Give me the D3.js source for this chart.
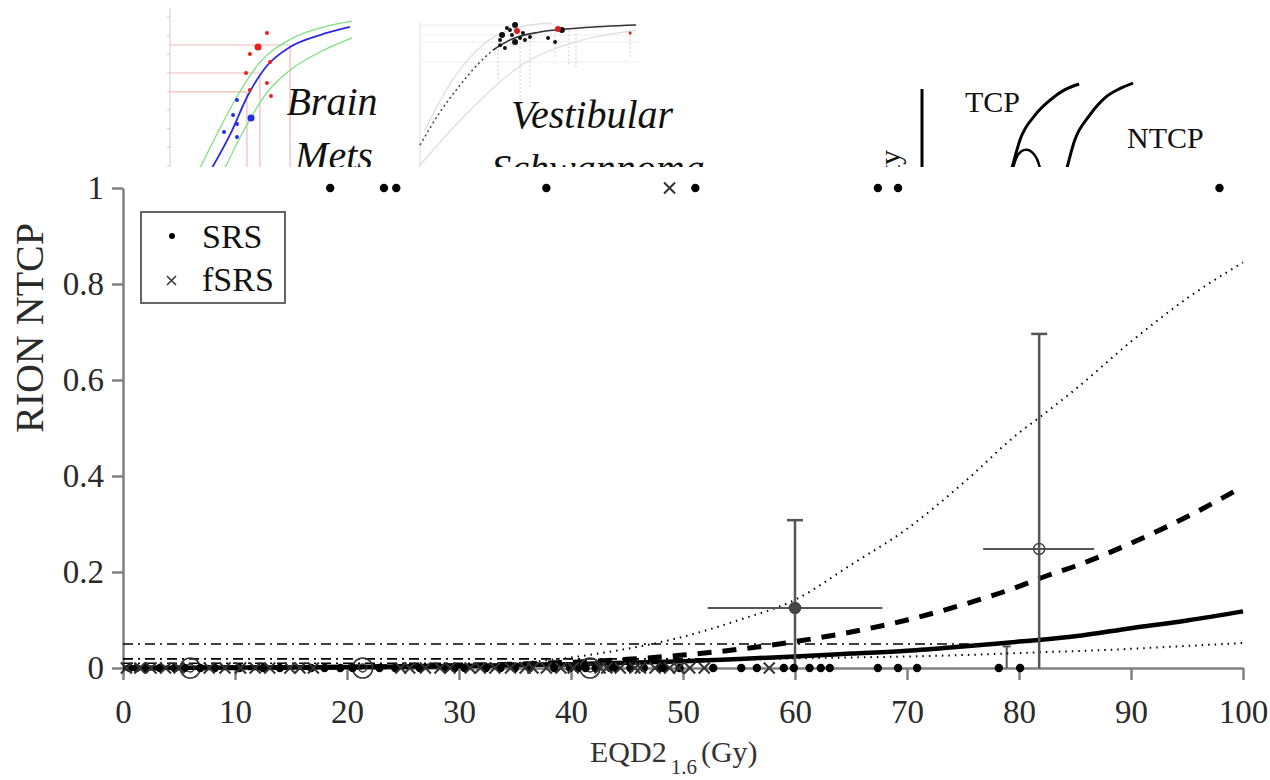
<!DOCTYPE html>
<html>
<head>
<meta charset="utf-8">
<script src="https://cdn.jsdelivr.net/npm/d3@7"></script>
<style>
  body { margin: 0; background: #fff; }
  svg { display: block; }
</style>
</head>
<body>
<div id="chart"></div>
<script>
// ---- main chart data (EQD2 in Gy, NTCP) ----
var xTicks = [0, 10, 20, 30, 40, 50, 60, 70, 80, 90, 100];
var yTicks = [0, 0.2, 0.4, 0.6, 0.8, 1];
var yTickLabels = ["0", "0.2", "0.4", "0.6", "0.8", "1"];

var srsTox = [18.5, 23.3, 24.4, 37.8, 51.1, 67.4, 69.2, 97.9];
var fsrsTox = [48.8];
var srsNoTox = [0.6, 1.2, 2.0, 3.3, 4.6, 5.5, 6.9, 8.2, 10.4, 12.5, 14.0, 16.8, 18.0, 19.4,
    20.5, 22.9, 24.3, 26.5, 28.8, 29.6, 30.5, 32.4, 33.7, 35.0, 36.3, 38.5, 39.9, 40.6, 41.3,
    42.2, 43.5, 44.0, 45.3, 46.5, 47.9, 48.3, 49.7, 52.7, 55.2, 56.6, 59.0, 59.9, 61.3, 62.3,
    63.1, 67.4, 69.2, 70.9, 78.2, 80.1];
var fsrsNoTox = [0.3, 1.5, 2.5, 3.8, 5.0, 7.7, 9.1, 10.5, 11.8, 13.1, 14.9, 15.8, 17.0, 24.8,
    25.6, 27.0, 28.3, 29.2, 31.0, 31.9, 33.2, 34.6, 35.9, 36.6, 37.8, 39.1, 40.2, 42.6, 43.2,
    44.4, 45.7, 46.2, 47.5, 48.8, 49.6, 50.6, 51.9, 57.7];

// binned observed rates: dose, rate, dose range, rate range
var binDose = [6.0, 21.4, 41.7, 60.0, 81.8];
var binRate = [0, 0, 0, 0.125, 0.248];
var binDoseLo = [6.0, 21.4, 41.7, 52.2, 76.8];
var binDoseHi = [6.0, 21.4, 41.7, 67.8, 86.7];
var binRateHi = [0, 0, 0, 0.308, 0.696];

var curveDose = [0, 10, 20, 30, 35, 40, 45, 50, 55, 60, 65, 70, 75, 80, 82, 85, 90, 95, 100];
var fitNtcp   = [0, 0.001, 0.002, 0.004, 0.006, 0.008, 0.011, 0.014, 0.019, 0.024, 0.030, 0.036, 0.045, 0.055, 0.059, 0.066, 0.083, 0.099, 0.118];
var altNtcp   = [0, 0.0005, 0.002, 0.005, 0.008, 0.012, 0.018, 0.027, 0.039, 0.055, 0.075, 0.100, 0.132, 0.170, 0.188, 0.212, 0.260, 0.315, 0.378];
var ciHigh    = [0, 0.0005, 0.002, 0.005, 0.010, 0.022, 0.040, 0.065, 0.100, 0.142, 0.215, 0.290, 0.385, 0.490, 0.525, 0.580, 0.680, 0.770, 0.845];
var ciLow     = [0, 0.0005, 0.001, 0.002, 0.004, 0.007, 0.010, 0.013, 0.017, 0.020, 0.022, 0.024, 0.027, 0.031, 0.033, 0.035, 0.040, 0.046, 0.052];

// tolerance levels and the dose where the fit reaches them
var tolLevel = [0.05, 0.019, 0.010];
var tolDose = [77.4, 56.0, 43.5];
// small error bar near the 5% crossing
var markDose = 78.9, markHi = 0.045;

// ---- inset: brain mets thumbnail (dose %, probability) ----
var bmCurveX = [22.7, 32.4, 42.2, 51.4, 64.9, 81.1, 97.3];
var bmCurveY = [0, 0.216, 0.477, 0.654, 0.791, 0.869, 0.922];
var bmUpperX = [16.2, 27.0, 37.8, 48.6, 64.9, 81.1, 98.4];
var bmUpperY = [0, 0.26, 0.50, 0.69, 0.84, 0.915, 0.96];
var bmLowerX = [29.7, 40.5, 51.4, 64.9, 81.1, 98.4];
var bmLowerY = [0, 0.26, 0.477, 0.64, 0.758, 0.85];
var bmRedX = [52.4, 47.6, 43.2, 54.1, 41.1, 52.4, 43.2, 54.6];
var bmRedY = [0.882, 0.791, 0.745, 0.693, 0.621, 0.556, 0.51, 0.471];
var bmRedR = [2, 3.5, 2, 2, 2, 2, 2, 2];
var bmBlueX = [36.2, 34.1, 43.8, 36.2, 29.2, 36.2];
var bmBlueY = [0.444, 0.346, 0.327, 0.288, 0.235, 0.203];
var bmBlueR = [2, 2, 3.5, 2, 2, 2];
var bmGridX = [41.6, 48.6, 64.9];
var bmGridY = [0.497, 0.621, 0.804];

// ---- inset: vestibular schwannoma thumbnail ----
var vsFitX = [33.2, 40.9, 54.5, 72.7, 98.2];
var vsFitY = [0.797, 0.865, 0.919, 0.946, 0.966];
var vsExtX = [0, 9.1, 18.2, 27.3, 33.2];
var vsExtY = [0.155, 0.378, 0.56, 0.716, 0.797];
var vsGrayAX = [2, 15, 30, 45, 60];
var vsGrayAY = [0.25, 0.6, 0.85, 0.95, 0.98];
var vsGrayBX = [0, 22.7, 45.5, 72.7, 98.2];
var vsGrayBY = [0.02, 0.39, 0.69, 0.86, 0.93];
var vsDotX = [36.4, 37.3, 39.5, 40.9, 41.8, 43.2, 45.5, 46.8, 47.7, 43.2, 50.0, 58.2, 61.4, 64.5, 38.6, 36.4];
var vsDotY = [0.865, 0.899, 0.946, 0.932, 0.899, 0.966, 0.878, 0.912, 0.865, 0.851, 0.885, 0.878, 0.851, 0.932, 0.811, 0.83];
var vsRedX = [44.1, 62.7, 95.5];
var vsRedY = [0.926, 0.939, 0.912];
var vsBarX = [35.5, 45.5, 50.0, 61.4, 67.7, 70.9, 95.5];
var vsBarLo = [0.6, 0.4, 0.55, 0.75, 0.7, 0.68, 0.75];
var vsBarHi = [0.9, 0.95, 0.93, 0.94, 0.95, 0.94, 0.93];

// ---- inset: TCP / NTCP schematic ----
var tcpX = [34.9, 38.0, 43.8, 49.6, 55.4, 60.9];
var tcpY = [0, 0.32, 0.60, 0.77, 0.89, 0.955];
var bellX = [35.3, 36.5, 38.5, 40.7, 43.0, 44.8, 45.7];
var bellY = [0, 0.13, 0.20, 0.215, 0.18, 0.10, 0];
var ntcpX = [56.2, 59.0, 65.0, 71.0, 76.5, 81.8];
var ntcpY = [0, 0.30, 0.60, 0.80, 0.90, 0.965];

var W = 1270, H = 780;
var serif = "'Liberation Serif', 'Times New Roman', serif";

var svg = d3.select("#chart").append("svg")
    .attr("width", W)
    .attr("height", H);

svg.append("rect").attr("width", W).attr("height", H).attr("fill", "#fff");

svg.append("defs").append("clipPath").attr("id", "topClip")
    .append("rect").attr("x", 0).attr("y", 0).attr("width", W).attr("height", 167);

var topG = svg.append("g").attr("clip-path", "url(#topClip)");

function zip(xs, ys) {
    return xs.map(function (d, i) { return [d, ys[i]]; });
}

// ===== brain mets thumbnail =====
var bmX = d3.scaleLinear().domain([0, 100]).range([170, 355]);
var bmY = d3.scaleLinear().domain([0, 1]).range([168, 15]);
var bmLine = d3.line().x(function (d) { return bmX(d[0]); }).y(function (d) { return bmY(d[1]); })
    .curve(d3.curveMonotoneX);
var bm = topG.append("g");

bm.append("line").attr("x1", bmX(0)).attr("x2", bmX(0)).attr("y1", 8).attr("y2", 168)
    .attr("stroke", "#ccc").attr("stroke-width", 1);
d3.range(0, 9).forEach(function (i) {
    bm.append("line").attr("x1", bmX(0) - 3).attr("x2", bmX(0))
        .attr("y1", 17 + i * 18.6).attr("y2", 17 + i * 18.6)
        .attr("stroke", "#ccc");
});
bmGridY.forEach(function (v, i) {
    bm.append("line").attr("x1", bmX(0)).attr("x2", bmX(bmGridX[i]))
        .attr("y1", bmY(v)).attr("y2", bmY(v))
        .attr("stroke", "#f2b8b8").attr("stroke-width", 1.2);
    bm.append("line").attr("x1", bmX(bmGridX[i])).attr("x2", bmX(bmGridX[i]))
        .attr("y1", bmY(v)).attr("y2", bmY(0))
        .attr("stroke", "#f2b8b8").attr("stroke-width", 1.2);
});
bm.append("path").attr("d", bmLine(zip(bmUpperX, bmUpperY)))
    .attr("fill", "none").attr("stroke", "#7ee07e").attr("stroke-width", 1.3);
bm.append("path").attr("d", bmLine(zip(bmLowerX, bmLowerY)))
    .attr("fill", "none").attr("stroke", "#7ee07e").attr("stroke-width", 1.3);
bm.append("path").attr("d", bmLine(zip(bmCurveX, bmCurveY)))
    .attr("fill", "none").attr("stroke", "#2a2ae0").attr("stroke-width", 1.8);
bm.selectAll(".red").data(bmRedX).enter().append("circle")
    .attr("cx", function (d) { return bmX(d); })
    .attr("cy", function (d, i) { return bmY(bmRedY[i]); })
    .attr("r", function (d, i) { return bmRedR[i]; })
    .attr("fill", "#e8201a");
bm.selectAll(".blue").data(bmBlueX).enter().append("circle")
    .attr("cx", function (d) { return bmX(d); })
    .attr("cy", function (d, i) { return bmY(bmBlueY[i]); })
    .attr("r", function (d, i) { return bmBlueR[i]; })
    .attr("fill", "#1c2ee8");
bm.append("text").attr("x", 332).attr("y", 115).attr("text-anchor", "middle")
    .attr("font-family", serif).attr("font-style", "italic").attr("font-size", 40)
    .attr("fill", "#111").text("Brain");
bm.append("text").attr("x", 334).attr("y", 169).attr("text-anchor", "middle")
    .attr("font-family", serif).attr("font-style", "italic").attr("font-size", 40)
    .attr("fill", "#111").text("Mets");

// ===== vestibular schwannoma thumbnail =====
var vsX = d3.scaleLinear().domain([0, 100]).range([420, 640]);
var vsY = d3.scaleLinear().domain([0, 1]).range([168, 20]);
var vsLine = d3.line().x(function (d) { return vsX(d[0]); }).y(function (d) { return vsY(d[1]); })
    .curve(d3.curveMonotoneX);
var vs = topG.append("g");

vs.append("line").attr("x1", vsX(0)).attr("x2", vsX(0)).attr("y1", 22).attr("y2", 168)
    .attr("stroke", "#ddd");
[0.966, 0.899, 0.851, 0.716].forEach(function (v) {
    vs.append("line").attr("x1", vsX(0)).attr("x2", vsX(100)).attr("y1", vsY(v)).attr("y2", vsY(v))
        .attr("stroke", "#eee");
});
vsBarX.forEach(function (d, i) {
    vs.append("line").attr("x1", vsX(d)).attr("x2", vsX(d))
        .attr("y1", vsY(vsBarLo[i])).attr("y2", vsY(vsBarHi[i]))
        .attr("stroke", i % 3 === 0 ? "#f0c0c0" : "#ccc").attr("stroke-width", 1)
        .attr("stroke-dasharray", "2,2");
});
vs.append("path").attr("d", vsLine(zip(vsGrayAX, vsGrayAY)))
    .attr("fill", "none").attr("stroke", "#ddd").attr("stroke-width", 1.2);
vs.append("path").attr("d", vsLine(zip(vsGrayBX, vsGrayBY)))
    .attr("fill", "none").attr("stroke", "#ddd").attr("stroke-width", 1.2);
vs.append("path").attr("d", vsLine(zip(vsExtX, vsExtY)))
    .attr("fill", "none").attr("stroke", "#444").attr("stroke-width", 1.5)
    .attr("stroke-dasharray", "2,3");
vs.append("path").attr("d", vsLine(zip(vsFitX, vsFitY)))
    .attr("fill", "none").attr("stroke", "#333").attr("stroke-width", 1.6);
vs.selectAll(".vd").data(vsDotX).enter().append("circle")
    .attr("cx", function (d) { return vsX(d); })
    .attr("cy", function (d, i) { return vsY(vsDotY[i]); })
    .attr("r", function (d, i) { return i % 4 === 1 ? 3 : 2; })
    .attr("fill", "#111");
vs.selectAll(".vr").data(vsRedX).enter().append("circle")
    .attr("cx", function (d) { return vsX(d); })
    .attr("cy", function (d, i) { return vsY(vsRedY[i]); })
    .attr("r", function (d, i) { return i === 2 ? 1.5 : 3; })
    .attr("fill", "#d42020");
vs.append("text").attr("x", 592).attr("y", 128).attr("text-anchor", "middle")
    .attr("font-family", serif).attr("font-style", "italic").attr("font-size", 40)
    .attr("fill", "#111").text("Vestibular");
vs.append("text").attr("x", 598).attr("y", 182).attr("text-anchor", "middle")
    .attr("font-family", serif).attr("font-style", "italic").attr("font-size", 40)
    .attr("fill", "#111").text("Schwannoma");

// ===== TCP / NTCP schematic =====
var tX = d3.scaleLinear().domain([0, 100]).range([922, 1180]);
var tY = d3.scaleLinear().domain([0, 1]).range([168, 80]);
var tLine = d3.line().x(function (d) { return tX(d[0]); }).y(function (d) { return tY(d[1]); })
    .curve(d3.curveMonotoneX);
var tcp = topG.append("g");
tcp.append("line").attr("x1", tX(0)).attr("x2", tX(0)).attr("y1", 89).attr("y2", 168)
    .attr("stroke", "#000").attr("stroke-width", 3);
tcp.append("text").attr("transform", "translate(900,150) rotate(-90)")
    .attr("text-anchor", "end").attr("font-family", serif).attr("font-size", 30)
    .attr("fill", "#111").text("Probability");
tcp.append("path").attr("d", tLine(zip(tcpX, tcpY)))
    .attr("fill", "none").attr("stroke", "#000").attr("stroke-width", 3);
tcp.append("path").attr("d", d3.line().x(function (d) { return tX(d[0]); })
        .y(function (d) { return tY(d[1]); }).curve(d3.curveBasis)(zip(bellX, bellY)))
    .attr("fill", "none").attr("stroke", "#000").attr("stroke-width", 2.5);
tcp.append("path").attr("d", tLine(zip(ntcpX, ntcpY)))
    .attr("fill", "none").attr("stroke", "#000").attr("stroke-width", 3);
tcp.append("text").attr("x", 965).attr("y", 112).attr("font-family", serif)
    .attr("font-size", 30).attr("fill", "#111").text("TCP");
tcp.append("text").attr("x", 1127).attr("y", 148).attr("font-family", serif)
    .attr("font-size", 30).attr("fill", "#111").text("NTCP");

// ===== main chart =====
var x = d3.scaleLinear().domain([0, 100]).range([123, 1243]);
var y = d3.scaleLinear().domain([0, 1]).range([668, 188]);
var g = svg.append("g");
var axisColor = "#808080";

var xAxis = g.append("g").attr("transform", "translate(0," + y(0) + ")")
    .call(d3.axisBottom(x).tickValues(xTicks).tickSize(12).tickSizeOuter(0).tickPadding(20)
        .tickFormat(d3.format("d")));
var yAxis = g.append("g").attr("transform", "translate(" + x(0) + ",0)")
    .call(d3.axisLeft(y).tickValues(yTicks).tickSize(11).tickSizeOuter(0).tickPadding(8)
        .tickFormat(function (d, i) { return yTickLabels[i]; }));
[xAxis, yAxis].forEach(function (a) {
    a.select(".domain").attr("stroke", axisColor).attr("stroke-width", 2.5);
    a.selectAll(".tick line").attr("stroke", axisColor).attr("stroke-width", 2.5);
    a.selectAll(".tick text").attr("font-family", serif).attr("font-size", 33)
        .attr("fill", "#2a2a2a");
});
yAxis.selectAll(".tick text").attr("dy", "0.33em");

g.append("text").attr("transform", "translate(43,328) rotate(-90)")
    .attr("text-anchor", "middle").attr("font-family", serif).attr("font-size", 40)
    .attr("fill", "#2a2a2a").text("RION NTCP");

var xl = g.append("text").attr("x", 590).attr("y", 762).attr("font-family", serif)
    .attr("font-size", 30).attr("fill", "#333");
xl.append("tspan").text("EQD2");
xl.append("tspan").attr("dx", 4).attr("dy", 12).attr("font-size", 21).text("1.6");
xl.append("tspan").attr("dx", 4).attr("dy", -12).text("(Gy)");

// tolerance lines
tolLevel.forEach(function (t, i) {
    g.append("line").attr("x1", x(0)).attr("x2", x(tolDose[i]))
        .attr("y1", y(t)).attr("y2", y(t))
        .attr("stroke", "#000").attr("stroke-width", 1.6)
        .attr("stroke-dasharray", "10,5,2,5");
});
g.append("line").attr("x1", x(markDose)).attr("x2", x(markDose))
    .attr("y1", y(0)).attr("y2", y(markHi))
    .attr("stroke", "#555").attr("stroke-width", 2);
g.append("line").attr("x1", x(markDose) - 4).attr("x2", x(markDose) + 4)
    .attr("y1", y(markHi)).attr("y2", y(markHi))
    .attr("stroke", "#555").attr("stroke-width", 2);

var line = d3.line().x(function (d) { return x(d[0]); }).y(function (d) { return y(d[1]); })
    .curve(d3.curveMonotoneX);

g.append("path").attr("d", line(zip(curveDose, ciHigh)))
    .attr("fill", "none").attr("stroke", "#000").attr("stroke-width", 2)
    .attr("stroke-dasharray", "1.5,5");
g.append("path").attr("d", line(zip(curveDose, ciLow)))
    .attr("fill", "none").attr("stroke", "#000").attr("stroke-width", 2)
    .attr("stroke-dasharray", "1.5,5");
g.append("path").attr("d", line(zip(curveDose, altNtcp)))
    .attr("fill", "none").attr("stroke", "#000").attr("stroke-width", 5)
    .attr("stroke-dasharray", "14,11");
g.append("path").attr("d", line(zip(curveDose, fitNtcp)))
    .attr("fill", "none").attr("stroke", "#000").attr("stroke-width", 4.5);

// binned rates with error bars
var eb = "#555";
binDose.forEach(function (d, i) {
    var cy = y(binRate[i]);
    if (binDoseHi[i] > binDoseLo[i]) {
        g.append("line").attr("x1", x(binDoseLo[i])).attr("x2", x(binDoseHi[i]))
            .attr("y1", cy).attr("y2", cy).attr("stroke", eb).attr("stroke-width", 2);
    }
    if (binRateHi[i] > binRate[i]) {
        g.append("line").attr("x1", x(d)).attr("x2", x(d))
            .attr("y1", y(0)).attr("y2", y(binRateHi[i]))
            .attr("stroke", eb).attr("stroke-width", 2.5);
        g.append("line").attr("x1", x(d) - 8).attr("x2", x(d) + 8)
            .attr("y1", y(binRateHi[i])).attr("y2", y(binRateHi[i]))
            .attr("stroke", eb).attr("stroke-width", 2.5);
        g.append("circle").attr("cx", x(d)).attr("cy", cy).attr("r", 5.5)
            .attr("fill", i === 3 ? "#444" : "none").attr("stroke", "#444").attr("stroke-width", 1.5);
    } else {
        g.append("circle").attr("cx", x(d)).attr("cy", cy).attr("r", 10)
            .attr("fill", "none").attr("stroke", "#333").attr("stroke-width", 1.6);
        g.append("circle").attr("cx", x(d)).attr("cy", cy).attr("r", 4)
            .attr("fill", "none").attr("stroke", "#333").attr("stroke-width", 1.4);
    }
});

// patients
function dots(data, val) {
    g.selectAll(null).data(data).enter().append("circle")
        .attr("cx", function (d) { return x(d); })
        .attr("cy", y(val))
        .attr("r", 4.2)
        .attr("fill", "#000");
}
function crosses(data, val) {
    var s = 5.5;
    g.selectAll(null).data(data).enter().append("path")
        .attr("d", function (d) {
            var cx = x(d), cy = y(val);
            return "M" + (cx - s) + "," + (cy - s) + "L" + (cx + s) + "," + (cy + s) +
                "M" + (cx - s) + "," + (cy + s) + "L" + (cx + s) + "," + (cy - s);
        })
        .attr("stroke", "#333").attr("stroke-width", 2).attr("fill", "none");
}
dots(srsNoTox, 0);
crosses(fsrsNoTox, 0);
dots(srsTox, 1);
crosses(fsrsTox, 1);

// legend
var lg = g.append("g");
lg.append("rect").attr("x", 141).attr("y", 212).attr("width", 144).attr("height", 91)
    .attr("fill", "#fff").attr("stroke", "#666").attr("stroke-width", 2);
lg.append("circle").attr("cx", 172).attr("cy", 236).attr("r", 3).attr("fill", "#000");
lg.append("path").attr("d", "M167,276L176,285M167,285L176,276")
    .attr("stroke", "#333").attr("stroke-width", 1.5);
lg.append("text").attr("x", 202).attr("y", 248).attr("font-family", serif)
    .attr("font-size", 34).attr("fill", "#111").text("SRS");
lg.append("text").attr("x", 202).attr("y", 291).attr("font-family", serif)
    .attr("font-size", 34).attr("fill", "#111").text("fSRS");
</script>
</body>
</html>
